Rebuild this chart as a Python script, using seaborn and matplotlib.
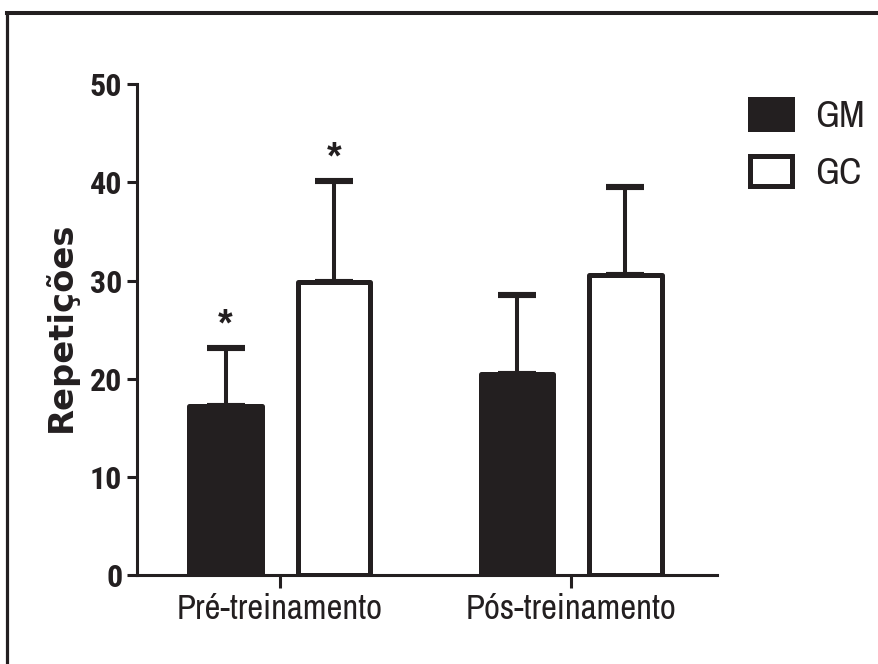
import matplotlib
matplotlib.use("Agg")
import matplotlib.pyplot as plt
from matplotlib.lines import Line2D
from matplotlib.patches import Patch
import seaborn as sns
import pandas as pd

# ---- data ----
conditions = ["Pré-treinamento", "Pós-treinamento"]
groups = ["GM", "GC"]
mean_gm = [17.2, 20.5]
mean_gc = [29.9, 30.6]
sd_gm = [5.9, 8.0]
sd_gc = [10.2, 8.9]
signif_gm = ["*", ""]
signif_gc = ["*", ""]
y_ticks = [0, 10, 20, 30, 40, 50]
y_label = "Repetições"

INK = "#231f20"
narrow = ["Archivo Narrow", "Roboto Condensed", "Liberation Sans", "DejaVu Sans"]
narrow_bold = ["Roboto Condensed", "Pragati Narrow", "Liberation Sans", "DejaVu Sans"]

sns.set_style("ticks")
plt.rcParams["font.family"] = narrow

df = pd.DataFrame({
    "cond": conditions * 2,
    "grupo": [groups[0]] * 2 + [groups[1]] * 2,
    "media": mean_gm + mean_gc,
    "sd": sd_gm + sd_gc,
    "sig": signif_gm + signif_gc,
})

fig = plt.figure(figsize=(8.79, 6.64), dpi=100)
ax = fig.add_axes([137 / 879, 1 - 575.3 / 664, 580 / 879, (575.3 - 84) / 664])

sns.barplot(data=df, x="cond", y="media", hue="grupo", order=conditions,
            hue_order=groups, palette={"GM": INK, "GC": "white"},
            edgecolor=INK, linewidth=3.6, width=0.744, gap=0.33,
            errorbar=None, legend=False, saturation=1, ax=ax, zorder=3)

bars = [p for p in ax.patches]
for p in bars:
    p.set_joinstyle("round")

# patches are ordered hue by hue: GM (cond0, cond1), GC (cond0, cond1)
for p, (_, row) in zip(bars, df.iterrows()):
    xc = p.get_x() + p.get_width() / 2
    ax.errorbar(xc, row["media"], yerr=[[0], [row["sd"]]], fmt="none",
                ecolor=INK, elinewidth=2.9, capsize=14, capthick=4.4, zorder=2)
    if row["sig"]:
        ax.text(xc, row["media"] + row["sd"] + 2.3, row["sig"], ha="center",
                va="center", fontsize=27, fontweight="bold",
                family=["Liberation Sans", "DejaVu Sans"], color=INK)

ax.set_xlim(-0.49, 1.50)
ax.set_ylim(0, 50)
ax.set_yticks(y_ticks)
ax.set_xlabel("")
ax.set_ylabel(y_label, fontsize=24.3, fontweight="bold",
              family=["DejaVu Sans"], color=INK)
ax.yaxis.label.set_verticalalignment("center")
ax.yaxis.set_label_coords(-0.131, 0.506)

sns.despine(ax=ax)
for s in ("left", "bottom"):
    ax.spines[s].set_linewidth(2.2)
    ax.spines[s].set_color(INK)

ax.tick_params(axis="y", length=7, width=2.2, pad=3.6, color=INK,
               labelsize=23, labelcolor=INK)
ax.tick_params(axis="x", length=9, width=2.2, pad=4, color=INK,
               labelsize=25, labelcolor=INK)
for t in ax.get_yticklabels():
    t.set_fontweight("bold")
    t.set_family(narrow_bold)

# legend
handles = [Patch(facecolor=INK, edgecolor=INK, linewidth=3.6, joinstyle="round"),
           Patch(facecolor="white", edgecolor=INK, linewidth=3.6, joinstyle="round")]
fig.legend(handles, groups, loc="upper left",
           bbox_to_anchor=(750 / 879, 1 - 99 / 664),
           frameon=False, borderpad=0, borderaxespad=0, fontsize=27,
           handlelength=1.12, handleheight=0.85, handletextpad=0.63,
           labelspacing=0.62, labelcolor=INK)

# frame lines (left and top)
fig.add_artist(Line2D([7.2 / 879, 7.2 / 879], [0, 1 - 13 / 664],
                      transform=fig.transFigure, color=INK, lw=2.3,
                      solid_capstyle="projecting"))
fig.add_artist(Line2D([7.2 / 879, 1], [1 - 13 / 664, 1 - 13 / 664],
                      transform=fig.transFigure, color=INK, lw=2.9,
                      solid_capstyle="projecting"))

fig.savefig("out.png", dpi=100, facecolor="white")
